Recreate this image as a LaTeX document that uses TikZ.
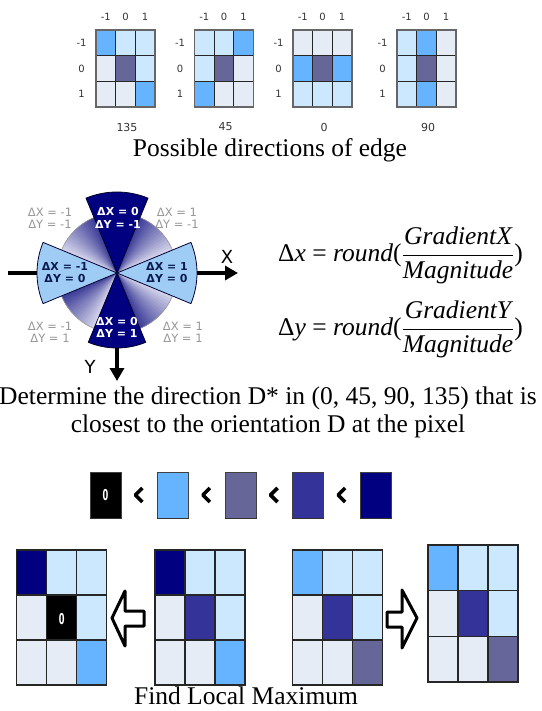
\documentclass[tikz,border=0pt]{standalone}
\usepackage{fontspec}
\setmainfont{Liberation Serif}
\newfontfamily\lblfont{DejaVu Sans}
\usetikzlibrary{arrows.meta,calc}

\definecolor{cg}{HTML}{E6ECF5}
\definecolor{cl}{HTML}{CCE8FF}
\definecolor{cb}{HTML}{66B3FF}
\definecolor{cp}{HTML}{666699}
\definecolor{cd}{HTML}{333399}
\definecolor{cn}{HTML}{000080}
\colorlet{ck}{black}
\definecolor{csect}{HTML}{9ECCF4}
\definecolor{cshdk}{HTML}{40409A}
\definecolor{cshlt}{HTML}{D2D2EA}
\definecolor{cgreytxt}{HTML}{959595}
\definecolor{cinktxt}{HTML}{0A1A50}

\newcommand{\wedgefan}[2]{%
  \foreach \k in {0,...,14} {
    \pgfmathsetmacro\p{100*\k/14}
    \pgfmathsetmacro\aa{#1+(#2-#1)*\k/15}
    \pgfmathsetmacro\bb{#1+(#2-#1)*(\k+1)/15}
    \filldraw[line width=0.3pt,fill=cshdk!\p!cshlt,draw=cshdk!\p!cshlt]
      (0,0) -- (\aa:60) arc[start angle=\aa,end angle=\bb,radius=60] -- cycle;
  }%
}

\begin{document}
\begin{tikzpicture}[x=1pt,y=-1pt,
  gridline/.style={draw=black!85,line width=0.9pt},
  gridframe/.style={draw=black!60,line width=1.4pt},
  idx/.style={font=\lblfont\fontsize{10}{11}\selectfont,text=black!80,inner sep=0pt},
  caption/.style={font=\fontsize{25.5}{28}\selectfont,inner sep=0pt},
  eqn/.style={font=\fontsize{25.5}{30}\selectfont,inner sep=0pt},
  axis/.style={line width=3.6pt,-{Triangle[length=13pt,width=14pt]}},
  rim/.style={draw=black!40,line width=0.6pt},
  sectdark/.style={fill=cn,draw=black!70!cn,line width=0.8pt},
  sectlight/.style={fill=csect,draw=black!60!cn,line width=0.8pt},
  greylbl/.style={font=\lblfont\fontsize{11.5}{12}\selectfont,text=cgreytxt,align=center,inner sep=0pt},
  sectlbl/.style={font=\lblfont\bfseries\fontsize{11}{12.5}\selectfont,align=center,inner sep=0pt},
  axlbl/.style={font=\lblfont\fontsize{18}{18}\selectfont,inner sep=0pt},
  legbox/.style={draw=black!75,line width=0.8pt,minimum width=31pt,minimum height=46pt,inner sep=0pt},
  zero/.style={font=\lblfont\bfseries\fontsize{15}{15}\selectfont,text=white,inner sep=0pt},
  chev/.style={line width=3.6pt,line join=round},
  hollow/.style={draw=black,fill=white,line width=3pt,line join=round}]
\useasboundingbox (0,0) rectangle (541,711);

\foreach \gx/\num/\cells [count=\g] in {96/135/{cb,cl,cl,cg,cp,cl,cg,cg,cb},
    194.5/45/{cl,cl,cb,cl,cp,cg,cb,cg,cg},
    293/0/{cg,cg,cg,cb,cp,cb,cl,cl,cl},
    397/90/{cl,cb,cg,cl,cp,cg,cl,cb,cg}} {
  \foreach \c [count=\i from 0] in \cells {
    \pgfmathtruncatemacro\cc{mod(\i,3)}
    \pgfmathtruncatemacro\rr{\i/3}
    \fill[\c] (\gx+\cc*19.67,30+\rr*25.67) rectangle ++(19.67,25.67);
  }
  \foreach \k in {1,2} {
    \draw[gridline] (\gx+\k*19.67,30) -- ++(0,77);
    \draw[gridline] (\gx,30+\k*25.67) -- ++(59,0);
  }
  \draw[gridframe] (\gx,30) rectangle ++(59,77);
  \foreach \t [count=\k from 0] in {-1,0,1} {
    \node[idx] (col\g\k) at (\gx+9.83+\k*19.67,17) {\t};
    \node[idx] (row\g\k) at (\gx-14.5,42.8+\k*25.67) {\t};
  }
  \node[idx,font=\lblfont\fontsize{11}{12}\selectfont] (dir\g) at (\gx+31,127) {\num};
}
\node[caption,anchor=base] (capdir) at (270,157) {Possible directions of edge};

\begin{scope}[shift={(117,273)}]
  \coordinate (o) at (0,0);
  \coordinate (xstart) at (-109,0);
  \coordinate (xend) at (121,0);
  \coordinate (yend) at (0,108);
  \draw[axis] (xstart) -- (xend);
  \draw[axis] (o) -- (yend);
  \fill[cshlt] (o) circle[radius=60];
  \wedgefan{202.5}{247.5}
  \wedgefan{337.5}{292.5}
  \wedgefan{22.5}{67.5}
  \wedgefan{112.5}{157.5}
  \draw[rim] (o) circle[radius=60];
  \draw[sectdark] (o) -- (247.5:81) arc[start angle=247.5,end angle=292.5,radius=81] -- cycle;
  \draw[sectdark] (o) -- (67.5:75) arc[start angle=67.5,end angle=112.5,radius=75] -- cycle;
  \draw[sectlight] (o) -- (157.5:80) arc[start angle=157.5,end angle=202.5,radius=80] -- cycle;
  \draw[sectlight] (o) -- (-22.5:80) arc[start angle=-22.5,end angle=22.5,radius=80] -- cycle;
  \node[greylbl] (ul) at (-67,-55) {ΔX = -1\\ΔY = -1};
  \node[sectlbl,text=white] (up) at (1,-55) {ΔX = 0\\ΔY = -1};
  \node[greylbl] (ur) at (60,-55) {ΔX = 1\\ΔY = -1};
  \node[sectlbl,text=cinktxt] (lt) at (-52,-0.5) {ΔX = -1\\ΔY = 0};
  \node[sectlbl,text=cinktxt] (rt) at (50,-0.5) {ΔX = 1\\ΔY = 0};
  \node[greylbl] (dl) at (-67,59.5) {ΔX = -1\\ΔY = 1};
  \node[sectlbl,text=white] (dn) at (0,54.5) {ΔX = 0\\ΔY = 1};
  \node[greylbl] (dr) at (66,59.5) {ΔX = 1\\ΔY = 1};
  \node[axlbl] (xlbl) at (110,-16) {X};
  \node[axlbl] (ylbl) at (-27,94) {Y};
\end{scope}

\node[eqn,anchor=base west] (eqx) at (278,261)
  {Δ\textit{x} = \textit{round}($\displaystyle\frac{\mbox{\itshape GradientX}}{\mbox{\itshape Magnitude}}$)};
\node[eqn,anchor=base west] (eqy) at (278,335)
  {Δ\textit{y} = \textit{round}($\displaystyle\frac{\mbox{\itshape GradientY}}{\mbox{\itshape Magnitude}}$)};

\node[caption,align=center] (capdet) at (268,412.5)
  {Determine the direction D* in (0, 45, 90, 135) that is\\closest to the orientation D at the pixel};

\foreach \c [count=\i from 0] in {ck,cb,cp,cd,cn} {
  \node[legbox,fill=\c] (leg\i) at (105.5+67.6*\i,495) {};
  \draw[line width=1.6pt,black!80] (leg\i.south west) -- (leg\i.south east);
}
\node[zero] (leg0txt) at (leg0) {\scalebox{0.55}[1]{0}};
\foreach \i [evaluate=\i as \j using int(\i+1)] in {0,...,3} {
  \coordinate (ch\i) at ($(leg\i.east)!0.5!(leg\j.west)$);
  \draw[chev] ($(ch\i)+(3,-7)$) -- ($(ch\i)+(-4,0)$) -- ($(ch\i)+(3,7)$);
}

\foreach \gx/\gy/\ch/\cells [count=\g] in {16.7/550/45/{cn,cl,cl,cg,ck,cl,cg,cg,cb},
    155/550/45/{cn,cl,cl,cg,cd,cl,cg,cg,cb},
    292.5/550/45/{cb,cl,cl,cg,cd,cl,cg,cg,cp},
    428/545/45.67/{cb,cl,cl,cg,cd,cl,cg,cg,cp}} {
  \foreach \c [count=\i from 0] in \cells {
    \pgfmathtruncatemacro\cc{mod(\i,3)}
    \pgfmathtruncatemacro\rr{\i/3}
    \fill[\c] (\gx+\cc*30,\gy+\rr*\ch) rectangle ++(30,\ch);
  }
  \foreach \k in {1,2} {
    \draw[gridline,line width=1.2pt] (\gx+\k*30,\gy) -- ++(0,3*\ch);
    \draw[gridline,line width=1.2pt] (\gx,\gy+\k*\ch) -- ++(90,0);
  }
  \draw[gridline,line width=1.4pt] (\gx,\gy) rectangle ++(90,3*\ch);
}
\node[zero] (zeroA) at (61.7,619) {\scalebox{0.55}[1]{0}};

\draw[hollow] (112,618) -- (125,591) -- (125,611) -- (144,611) -- (144,626) -- (125,626) -- (125,646) -- cycle;
\draw[hollow] (417,618) -- (402,590) -- (402,612) -- (387,612) -- (387,627) -- (402,627) -- (402,648) -- cycle;

\node[caption,anchor=base] (capmax) at (246,704) {Find Local Maximum};
\end{tikzpicture}
\end{document}
